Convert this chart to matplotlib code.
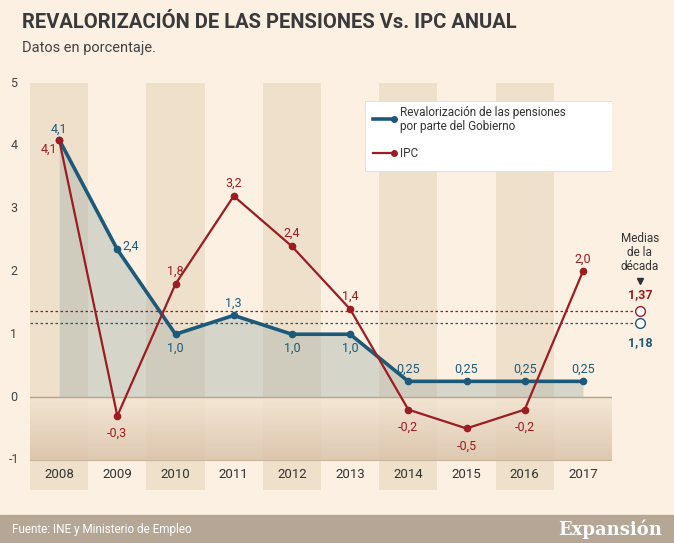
import matplotlib
matplotlib.use("Agg")
import matplotlib.pyplot as plt
import numpy as np
from matplotlib.patches import Rectangle

years = [2008, 2009, 2010, 2011, 2012, 2013, 2014, 2015, 2016, 2017]
pens = [4.1, 2.35, 1.0, 1.3, 1.0, 1.0, 0.25, 0.25, 0.25, 0.25]
pens_lbl = ["4,1", "2,4", "1,0", "1,3", "1,0", "1,0", "0,25", "0,25", "0,25", "0,25"]
ipc = [4.1, -0.3, 1.8, 3.2, 2.4, 1.4, -0.2, -0.5, -0.2, 2.0]
ipc_lbl = ["4,1", "-0,3", "1,8", "3,2", "2,4", "1,4", "-0,2", "-0,5", "-0,2", "2,0"]
yticks = [-1, 0, 1, 2, 3, 4, 5]
mean_ipc, mean_pens = 1.37, 1.18

BLUE = "#1d5a7a"; RED = "#9b1c22"; BG = "#fbf0e1"; BAND = "#efe0cc"
plt.rcParams['font.family'] = ['Roboto', 'DejaVu Sans']

W, H = 674, 543
fig = plt.figure(figsize=(W/100, H/100), dpi=100, facecolor=BG)
ax = fig.add_axes([30/W, (H-490)/H, 582/W, 407/H])
ax.set_facecolor(BG)
ax.set_xlim(2007.5, 2017.5); ax.set_ylim(-1.48, 5)
ax.axis('off')

for i, y in enumerate(years):
    if i % 2 == 0:
        ax.add_patch(Rectangle((y-0.5, -1.48), 1, 6.48, color=BAND, zorder=0, lw=0))
# gradient below zero
grad = np.linspace(0, 1, 100).reshape(-1, 1)
from matplotlib.colors import LinearSegmentedColormap
cm = LinearSegmentedColormap.from_list("g", ["#d9c2a8", "#f3e6d4"])
ax.imshow(grad, extent=(2007.5, 2017.5, 0, -1), aspect='auto', cmap=cm, alpha=0.85, zorder=0.5)
ax.axhline(0, color="#b9a088", lw=1, zorder=1)
ax.axhline(-1, color="#c9b49c", lw=0.8, zorder=1)

ax.fill_between(years, pens, 0, color="#a9b5ad", alpha=0.45, zorder=1.5, lw=0)
ax.plot(years, pens, color=BLUE, lw=2.6, marker='o', ms=4.5, zorder=3)
ax.plot(years, ipc, color=RED, lw=1.6, marker='o', ms=4.5, zorder=4)

for t in yticks:
    ax.text(2007.22, t, str(t), ha='center', va='center', fontsize=9, color="#444", clip_on=False)
for y in years:
    ax.text(y, -1.24, str(y), ha='center', va='center', fontsize=9.5, color="#333")

poff = {0: (0, 0.17, 'center'), 1: (0.08, 0.05, 'left'), 2: (0, -0.22, 'center'),
        3: (0, 0.2, 'center'), 4: (0, -0.22, 'center'), 5: (0, -0.22, 'center'),
        6: (0, 0.2, 'center'), 7: (0, 0.2, 'center'), 8: (0, 0.2, 'center'), 9: (0, 0.2, 'center')}
for i, (y, v, l) in enumerate(zip(years, pens, pens_lbl)):
    dx, dy, ha = poff[i]
    ax.text(y+dx, v+dy, l, ha=ha, va='center', fontsize=9, color=BLUE, zorder=6)
ioff = {0: (-0.18, -0.15), 1: (0, -0.28), 2: (0, 0.2), 3: (0, 0.2), 4: (0, 0.2), 5: (0, 0.2),
        6: (0, -0.28), 7: (0, -0.28), 8: (0, -0.28), 9: (0, 0.2)}
for i, (y, v, l) in enumerate(zip(years, ipc, ipc_lbl)):
    dx, dy = ioff[i]
    ax.text(y+dx, v+dy, l, ha='center', va='center', fontsize=9, color=RED, zorder=6)

ax.plot([2007.5, 2017.86], [mean_ipc]*2, color=RED, lw=0.9, ls=(0, (2, 2)), clip_on=False, zorder=2)
ax.plot([2007.5, 2017.86], [mean_pens]*2, color=BLUE, lw=0.9, ls=(0, (2, 2)), clip_on=False, zorder=2)
ax.plot([2017.98], [mean_ipc], 'o', mfc='white', mec=RED, ms=7, clip_on=False)
ax.plot([2017.98], [mean_pens], 'o', mfc='white', mec=BLUE, ms=7, clip_on=False)
ax.text(2017.98, 2.3, "Medias\nde la\ndécada", ha='center', va='center', fontsize=8.5, color="#333", linespacing=1.1, clip_on=False)
ax.plot([2017.98], [1.85], marker='v', color="#333", ms=4, clip_on=False)
ax.text(2017.98, 1.63, "1,37", ha='center', va='center', fontsize=9, color=RED, fontweight='bold', clip_on=False)
ax.text(2017.98, 0.86, "1,18", ha='center', va='center', fontsize=9, color=BLUE, fontweight='bold', clip_on=False)

# legend
ax.add_patch(Rectangle((2013.25, 3.6), 4.35, 1.12, facecolor='white', edgecolor='#ddd', lw=0.6, zorder=7))
ax.plot([2013.4, 2013.75], [4.42]*2, color=BLUE, lw=2.6, marker='o', ms=4, markevery=[1], zorder=8)
ax.text(2013.85, 4.42, "Revalorización de las pensiones\npor parte del Gobierno", va='center', fontsize=8.5, color="#333", zorder=8, linespacing=1.05)
ax.plot([2013.4, 2013.75], [3.88]*2, color=RED, lw=1.6, marker='o', ms=4, markevery=[1], zorder=8)
ax.text(2013.85, 3.88, "IPC", va='center', fontsize=8.5, color="#333", zorder=8)

fig.text(22/W, 1-22/H, "REVALORIZACIÓN DE LAS PENSIONES Vs. IPC ANUAL", fontsize=14.5, fontweight='bold', color="#3a3a3a", va='center')
fig.text(22/W, 1-48/H, "Datos en porcentaje.", fontsize=10.5, color="#444", va='center')
fig.patches.append(Rectangle((0, 0), 1, 28/H, transform=fig.transFigure, color="#b5a695", zorder=0))
fig.text(12/W, 14/H, "Fuente: INE y Ministerio de Empleo", fontsize=8.5, color="white", va='center')
fig.text(662/W, 14/H, "Expansión", fontsize=13, color="white", va='center', ha='right', fontweight='bold', family='DejaVu Serif')
fig.savefig("out.png", dpi=100, facecolor=BG)
